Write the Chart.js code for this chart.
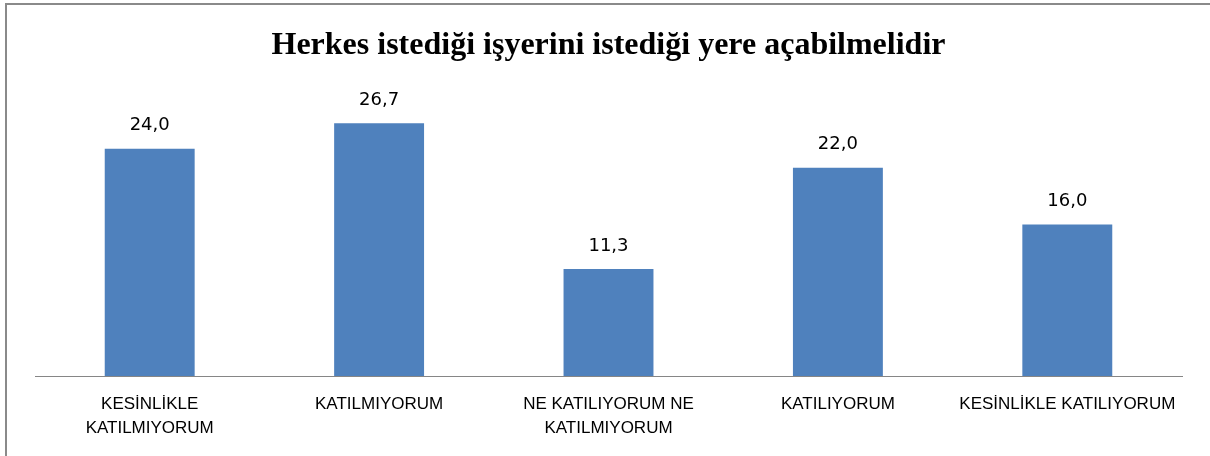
<!DOCTYPE html>
<html>
<head>
<meta charset="utf-8">
<script src="https://cdn.jsdelivr.net/npm/chart.js@4"></script>
<style>
  html, body { margin: 0; padding: 0; background: #fff; }
  #wrap { position: relative; width: 1210px; height: 456px; }
  #frame { position: absolute; left: 5px; top: 3px; width: 1300px; height: 600px;
           border-left: 2px solid #8a8a8a; border-top: 2px solid #8a8a8a; box-sizing: border-box; }
  canvas { position: absolute; left: 0; top: 0; }
</style>
</head>
<body>
<div id="wrap">
  <div id="frame"></div>
  <canvas id="c" width="1210" height="456"></canvas>
</div>
<script>
const titleText = "Herkes istediği işyerini istediği yere açabilmelidir";
const categories = [
  ["KESİNLİKLE", "KATILMIYORUM"],
  "KATILMIYORUM",
  ["NE KATILIYORUM NE", "KATILMIYORUM"],
  "KATILIYORUM",
  "KESİNLİKLE KATILIYORUM"
];
const values = [24.0, 26.7, 11.3, 22.0, 16.0];
const yMin = 0;
const yMax = 30;

const valueLabels = {
  id: 'valueLabels',
  afterDatasetsDraw(chart) {
    const ctx = chart.ctx;
    const meta = chart.getDatasetMeta(0);
    ctx.save();
    ctx.font = '18px "DejaVu Sans", sans-serif';
    ctx.fillStyle = '#000';
    ctx.textAlign = 'center';
    ctx.textBaseline = 'middle';
    meta.data.forEach((bar, i) => {
      const v = chart.data.datasets[0].data[i];
      ctx.fillText(v.toFixed(1).replace('.', ','), bar.x, bar.y - 23);
    });
    ctx.restore();
  }
};

new Chart(document.getElementById('c'), {
  type: 'bar',
  data: {
    labels: categories,
    datasets: [{
      data: values,
      backgroundColor: '#4F81BD',
      borderWidth: 0,
      categoryPercentage: 0.8,
      barPercentage: 0.49
    }]
  },
  options: {
    responsive: false,
    animation: false,
    layout: { padding: { left: 35, right: 28, top: 0, bottom: 0 } },
    plugins: {
      legend: { display: false },
      tooltip: { enabled: false },
      title: {
        display: true,
        text: titleText,
        color: '#000',
        font: { family: '"Liberation Serif", "Times New Roman", serif', size: 32, weight: 'bold', lineHeight: 1.2 },
        padding: { top: 27, bottom: 26.6 }
      }
    },
    scales: {
      y: { display: false, min: yMin, max: yMax },
      x: {
        grid: { display: true, drawOnChartArea: false, drawTicks: false },
        border: { display: true, color: '#868686', width: 1 },
        ticks: {
          color: '#000',
          padding: 16,
          maxRotation: 0,
          autoSkip: false,
          font: { family: '"Liberation Sans", Arial, sans-serif', size: 17, lineHeight: 1.41 }
        }
      }
    }
  },
  plugins: [valueLabels]
});
</script>
</body>
</html>
